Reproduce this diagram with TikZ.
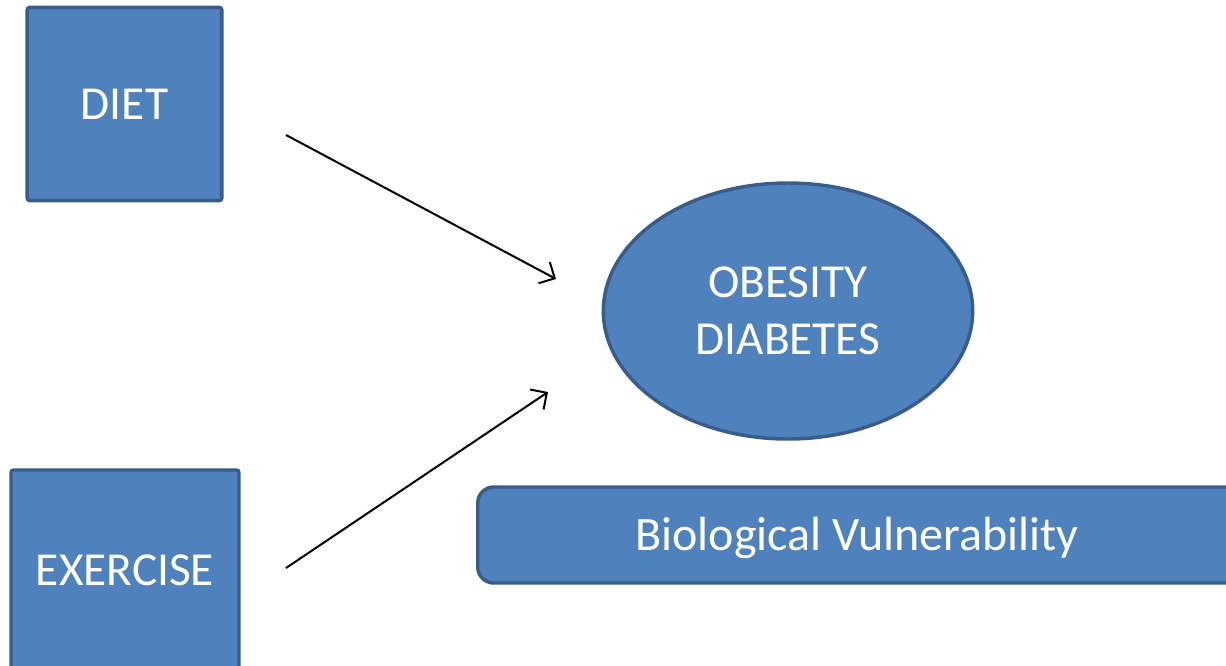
\documentclass[tikz,border=0pt]{standalone}
\usepackage{fontspec}
\setmainfont{Carlito}
\usetikzlibrary{arrows.meta,shapes.geometric}
\definecolor{boxfill}{HTML}{4F81BD}
\definecolor{boxline}{HTML}{385D8A}
\tikzset{
  factor/.style={draw=boxline, fill=boxfill, line width=2.6pt, rounded corners=2pt,
    text=white, font=\fontsize{35.5}{40}\selectfont, align=center, inner sep=0pt},
  link/.style={->, >={Straight Barb[length=9pt,width=18pt,line width=1.5pt]}, line width=1.5pt}
}
\begin{document}
\begin{tikzpicture}[x=0.75pt,y=-0.75pt]
  \useasboundingbox (0,0) rectangle (1226,665);
  % boxes
  \node[factor, minimum width=146pt, minimum height=145pt] (diet) at (124.5,104) {DIET};
  \node[factor, minimum width=171pt, minimum height=150pt] (exercise) at (125,570) {EXERCISE};
  \node[factor, ellipse, minimum width=277pt, minimum height=192pt] (outcome) at (788,311)
    {OBESITY\\[3pt]DIABETES};
  \node[factor, rounded corners=12pt, minimum width=585pt, minimum height=72pt,
    anchor=west] (vuln) at (476,535) {};
  \node[text=white, font=\fontsize{36}{40}\selectfont] (vulntext) at (857,538) {Biological Vulnerability};
  % arrow ends
  \coordinate (d1) at (286,135);
  \coordinate (d2) at (556,279);
  \coordinate (e1) at (286,568);
  \coordinate (e2) at (548,392);
  \draw[link] (d1) -- (d2);
  \draw[link] (e1) -- (e2);
\end{tikzpicture}
\end{document}
